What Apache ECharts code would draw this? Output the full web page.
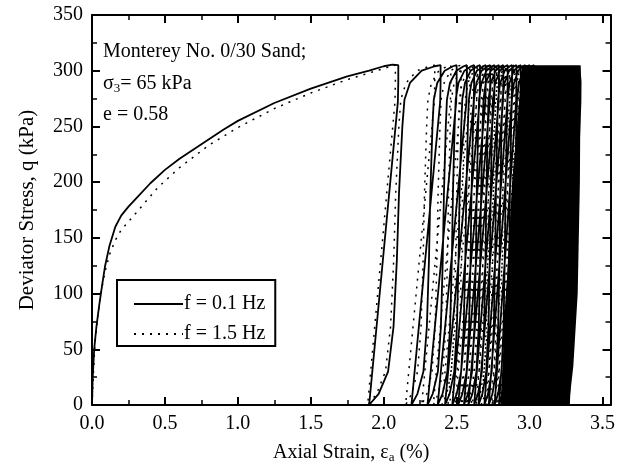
<!DOCTYPE html>
<html>
<head>
<meta charset="utf-8">
<script src="https://cdn.jsdelivr.net/npm/echarts@6/dist/echarts.min.js"></script>
<style>
  html, body { margin: 0; padding: 0; background: #ffffff; }
  #chart { width: 618px; height: 473px; }
</style>
</head>
<body>
<div id="chart"></div>
<script>
// ---------- Data ----------
// Monotonic first loading, f = 0.1 Hz (strain %, deviator stress kPa)
const monoStrain01 = [0, 0.005, 0.015, 0.03, 0.05, 0.07, 0.09, 0.12, 0.16, 0.2, 0.25, 0.3, 0.4, 0.5, 0.6, 0.75, 0.9, 1.0, 1.25, 1.5, 1.75, 1.9, 2.0, 2.06, 2.10];
const monoStress01 = [0, 25, 50, 70, 90, 108, 125, 143, 160, 170, 178, 185, 199, 211, 221, 234, 247, 255, 271, 284, 295, 300, 304, 305.5, 305];
// Monotonic first loading, f = 1.5 Hz
const monoStrain15 = [0, 0.01, 0.02, 0.04, 0.06, 0.09, 0.12, 0.16, 0.2, 0.3, 0.45, 0.6, 0.8, 1.0, 1.25, 1.5, 1.75, 1.95, 2.05, 2.08];
const monoStress15 = [0, 30, 55, 80, 100, 120, 135, 148, 157, 172, 195, 213, 233, 249, 266, 280, 292, 300, 304, 305];

// Cyclic loops: peak strain of each reload (after the first), and strain at q = 0 after each unload
const peakStrain01 = [2.39, 2.50, 2.57, 2.62, 2.66, 2.70, 2.73, 2.76, 2.79, 2.82, 2.85, 2.88, 2.91, 2.94, 2.97, 3.00, 3.03, 3.06, 3.09, 3.12, 3.15, 3.18, 3.21, 3.24, 3.27, 3.30, 3.33, 3.35];
const baseStrain01 = [1.90, 2.19, 2.30, 2.37, 2.42, 2.47, 2.51, 2.55, 2.58, 2.62, 2.65, 2.69, 2.72, 2.76, 2.79, 2.83, 2.86, 2.90, 2.93, 2.97, 3.00, 3.04, 3.07, 3.11, 3.14, 3.18, 3.21, 3.25, 3.27];
const peakStrain15 = [2.35, 2.46, 2.53, 2.59, 2.64, 2.68, 2.715, 2.745, 2.775, 2.805, 2.835, 2.865, 2.895, 2.925, 2.955, 2.985, 3.015, 3.045, 3.075, 3.105, 3.135, 3.165, 3.195, 3.225, 3.255, 3.285, 3.315, 3.34];
const baseStrain15 = [1.89, 2.15, 2.26, 2.34, 2.40, 2.44, 2.49, 2.53, 2.565, 2.60, 2.635, 2.67, 2.705, 2.74, 2.775, 2.81, 2.845, 2.88, 2.915, 2.95, 2.985, 3.02, 3.055, 3.09, 3.125, 3.16, 3.195, 3.23, 3.26];

// Loop shape read from the second cycle: fraction of loop width and stress
const reloadFrac   = [0, 0.133, 0.265, 0.341, 0.388, 0.418, 0.465, 0.494, 0.571, 0.735, 0.918, 1];
const reloadStress = [0, 10, 30, 70, 130, 190, 250, 274, 289, 300, 304, 305];
const unloadFrac   = [1, 1, 0.985, 0];
const unloadStress = [305, 290, 272, 0];

// Saturated (overprinted) region of the late cycles
const denseStrain = [2.95, 3.35, 3.345, 3.33, 3.30, 3.27, 2.80, 2.84, 2.88];
const denseStress = [305, 305, 200, 100, 35, 0, 0, 100, 200];

// Axis ticks
const xTicks = [0, 0.5, 1.0, 1.5, 2.0, 2.5, 3.0, 3.5];
const yTicks = [0, 50, 100, 150, 200, 250, 300, 350];

// ---------- Build paths ----------
function buildPath(monoX, monoY, peaks, bases) {
  const pts = monoX.map((x, i) => [x, monoY[i]]);
  let p = monoX[monoX.length - 1];
  for (let k = 0; k < bases.length; k++) {
    const b = bases[k];
    for (let j = 0; j < unloadFrac.length; j++) pts.push([b + unloadFrac[j] * (p - b), unloadStress[j]]);
    if (k < peaks.length) {
      const np = peaks[k];
      for (let j = 1; j < reloadFrac.length; j++) pts.push([b + reloadFrac[j] * (np - b), reloadStress[j]]);
      p = np;
    }
  }
  return pts;
}
const path01 = buildPath(monoStrain01, monoStress01, peakStrain01, baseStrain01);
const path15 = buildPath(monoStrain15, monoStress15, peakStrain15, baseStrain15);
const densePoly = denseStrain.map((x, i) => [x, denseStress[i]]);

const FONT = '"Liberation Serif", "Times New Roman", serif';

const chart = echarts.init(document.getElementById('chart'), null, { renderer: 'canvas' });

function xFmt(v) {
  for (const t of xTicks) if (Math.abs(v - t) < 1e-6) return t.toFixed(1);
  return '';
}
function yFmt(v) {
  for (const t of yTicks) if (Math.abs(v - t) < 1e-6) return String(t);
  return '';
}

const axisCommon = {
  axisLine: { show: true, onZero: false, lineStyle: { color: '#000', width: 2 } },
  axisTick: { show: true, inside: true, length: 8, lineStyle: { color: '#000', width: 2 } },
  minorTick: { show: true, splitNumber: 2, length: 5, lineStyle: { color: '#000', width: 1.5 } },
  splitLine: { show: false },
  minorSplitLine: { show: false }
};

chart.setOption({
  backgroundColor: '#ffffff',
  animation: false,
  grid: { left: 92, right: 3, top: 15, bottom: 68, containLabel: false },
  legend: {
    orient: 'vertical',
    left: 117,
    top: 280,
    padding: [14, 10, 2, 16],
    itemWidth: 49,
    itemHeight: 16,
    itemGap: 10,
    borderColor: '#000',
    borderWidth: 2,
    backgroundColor: '#fff',
    itemStyle: { opacity: 0 },
    data: ['f = 0.1 Hz', 'f = 1.5 Hz'],
    textStyle: { fontFamily: FONT, fontSize: 20, color: '#000', padding: [0, 0, 0, -4] }
  },
  xAxis: [
    Object.assign({}, axisCommon, {
      type: 'value', position: 'bottom', min: 0, max: 3.555, interval: 0.5,
      name: 'Axial Strain, ε{sub|a} (%)',
      nameLocation: 'middle', nameGap: 36,
      nameTextStyle: { fontFamily: FONT, fontSize: 20, color: '#000', rich: { sub: { fontFamily: FONT, fontSize: 13, verticalAlign: 'bottom', padding: [10, 0, 0, 0] } } },
      axisLabel: { show: true, margin: 9, formatter: xFmt, fontFamily: FONT, fontSize: 20, color: '#000', showMaxLabel: true }
    }),
    Object.assign({}, axisCommon, {
      type: 'value', position: 'top', min: 0, max: 3.555, interval: 0.5,
      axisLabel: { show: false }
    })
  ],
  yAxis: [
    Object.assign({}, axisCommon, {
      type: 'value', position: 'left', min: 0, max: 350, interval: 50,
      name: 'Deviator Stress, q (kPa)',
      nameLocation: 'middle', nameGap: 54, nameRotate: 90,
      nameTextStyle: { fontFamily: FONT, fontSize: 21, color: '#000' },
      axisLabel: { show: true, margin: 9, formatter: yFmt, fontFamily: FONT, fontSize: 20, color: '#000' }
    }),
    Object.assign({}, axisCommon, {
      type: 'value', position: 'right', min: 0, max: 350, interval: 50,
      axisLabel: { show: false }
    })
  ],
  graphic: [
    { type: 'text', left: 103, top: 42, style: { text: 'Monterey No. 0/30 Sand;', font: '20px ' + FONT, fill: '#000' } },
    { type: 'text', left: 103, top: 74, style: { text: 'σ{sub|3}= 65 kPa', font: '20px ' + FONT, fill: '#000', rich: { sub: { fontFamily: FONT, fontSize: 13, padding: [10, 0, 0, 0] } } } },
    { type: 'text', left: 103, top: 105, style: { text: 'e = 0.58', font: '20px ' + FONT, fill: '#000' } }
  ],
  series: [
    {
      name: 'dense',
      type: 'custom',
      xAxisIndex: 0, yAxisIndex: 0,
      silent: true,
      data: [0],
      renderItem: function (params, api) {
        const pts = densePoly.map(p => api.coord(p));
        return { type: 'polygon', shape: { points: pts }, style: { fill: '#000' } };
      }
    },
    {
      name: 'f = 1.5 Hz',
      type: 'line',
      data: path15,
      showSymbol: false,
      symbol: 'none',
      lineStyle: { color: '#000', width: 1.5, type: [2, 6] },
      itemStyle: { color: '#000' }
    },
    {
      name: 'f = 0.1 Hz',
      type: 'line',
      data: path01,
      showSymbol: false,
      symbol: 'none',
      lineStyle: { color: '#000', width: 1.8 },
      itemStyle: { color: '#000' }
    }
  ]
});
</script>
</body>
</html>
